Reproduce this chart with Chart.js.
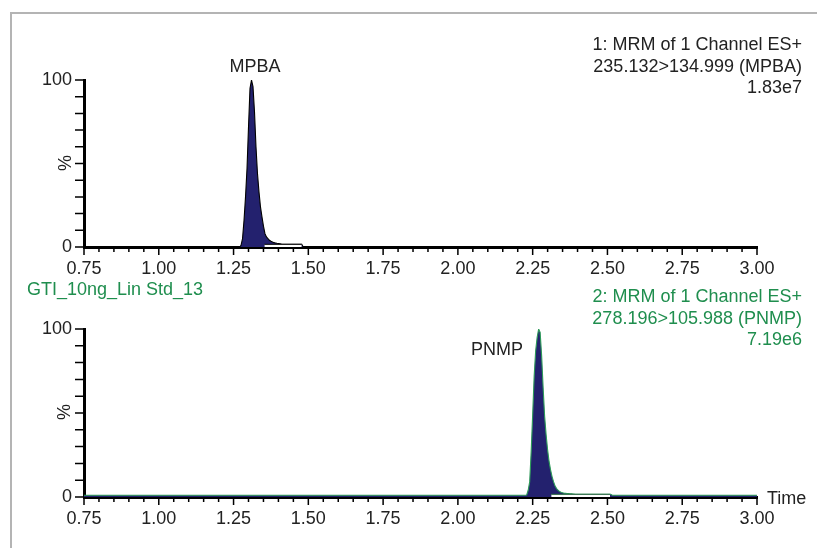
<!DOCTYPE html>
<html>
<head>
<meta charset="utf-8">
<script src="https://cdn.jsdelivr.net/npm/chart.js@4.4.1/dist/chart.umd.min.js"></script>
<style>
  html, body { margin: 0; padding: 0; background: #fff; }
  #wrap { position: relative; width: 817px; height: 548px; overflow: hidden;
          font-family: 'Liberation Sans', Arial, sans-serif; }
  canvas { position: absolute; left: 0; }
  .frame { position: absolute; left: 10px; top: 12px; width: 830px; height: 560px;
           border-top: 2px solid #b4b4b4; border-left: 2px solid #b4b4b4; }
  .t { position: absolute; font-size: 18px; line-height: 21.6px; color: #222; white-space: nowrap; }
  .c { transform: translate(-50%, -50%); }
  .green { color: #1f8e4e; }
  .right { text-align: right; }
  .pct { transform: translate(-50%, -50%) rotate(-90deg); }
</style>
</head>
<body>
<div id="wrap">
  <div class="frame"></div>
  <canvas id="top" width="817" height="290" style="top:0"></canvas>
  <canvas id="bottom" width="817" height="258" style="top:290px"></canvas>

  <div class="t right" style="right:15px; top:34px;">1: MRM of 1 Channel ES+<br>235.132&gt;134.999 (MPBA)<br>1.83e7</div>
  <div class="t right green" style="right:15px; top:286px;">2: MRM of 1 Channel ES+<br>278.196&gt;105.988 (PNMP)<br>7.19e6</div>
  <div class="t green" style="left:27px; top:279px;">GTI_10ng_Lin Std_13</div>
  <div class="t c" style="left:255px; top:67px;">MPBA</div>
  <div class="t c" style="left:497px; top:350px;">PNMP</div>
  <div class="t" style="left:767px; top:488px;">Time</div>
  <div class="t pct" style="left:66px; top:163px;">%</div>
  <div class="t pct" style="left:65px; top:412px;">%</div>
</div>
<script>
// Retention time axis (min) and tick labelling
const timeMin = 0.75;
const timeMax = 3.00;
const timeStep = 0.05;
const labelledTicks = ['0.75', '1.00', '1.25', '1.50', '1.75', '2.00', '2.25', '2.50', '2.75', '3.00'];
const pctTicks = ['0', '100'];

// Channel 1: 235.132 > 134.999 (MPBA), relative intensity %
const mpbaTimes = [0.75, 1.270, 1.275, 1.280, 1.285, 1.290, 1.295, 1.300, 1.305, 1.310, 1.315,
                   1.320, 1.325, 1.330, 1.335, 1.340, 1.345, 1.350, 1.355, 1.360, 1.365,
                   1.370, 1.375, 1.380, 1.385, 1.390, 1.395, 1.400, 1.405, 1.410,
                   1.478, 1.483, 3.00];
const mpbaIntensity = [0, 0, 1, 5, 16, 30, 47, 72, 95, 100, 96,
                       81, 60, 44, 33, 24, 18, 12.5, 8, 6, 5,
                       4, 3.4, 3, 2.6, 2.4, 2.2, 2.1, 1.9, 1.7,
                       1.6, 0, 0];
// Integration baseline segment for channel 1
const mpbaBaseTimes = [1.353, 1.478];
const mpbaBaseLevel = [1.6, 1.6];

// Channel 2: 278.196 > 105.988 (PNMP), relative intensity %
const pnmpTimes = [0.75, 2.225, 2.230, 2.235, 2.240, 2.245, 2.250, 2.255, 2.260, 2.265, 2.270,
                   2.275, 2.280, 2.285, 2.290, 2.295, 2.300, 2.305, 2.310, 2.315, 2.320,
                   2.325, 2.330, 2.335, 2.340, 2.345, 2.350, 2.355, 2.360, 2.365, 2.370,
                   2.375, 2.380, 2.385, 2.390, 2.511, 2.516, 3.00];
const pnmpIntensity = [1, 1, 1.2, 4, 9, 27, 49, 72, 87, 95, 100,
                       98, 84, 65, 48, 37, 28, 21, 16, 12, 9,
                       6.5, 5, 4, 3.2, 2.8, 2.5, 2.3, 2.2, 2.1, 2.0,
                       1.9, 1.9, 1.8, 1.7, 1.6, 1, 1];
// Integration baseline segment for channel 2
const pnmpBaseTimes = [2.312, 2.509];
const pnmpBaseLevel = [1.6, 1.6];

const FONT = "'Liberation Sans', Arial, sans-serif";
const NAVY = '#23216e';

const points = (xs, ys) => xs.map((x, i) => ({ x, y: ys[i] }));

// Tick marks: long at labelled times, short at every 0.05 min; y ticks every 10 %
const tickMarks = {
  id: 'tickMarks',
  afterDraw(chart) {
    const { ctx, chartArea, scales: { x, y } } = chart;
    ctx.save();
    ctx.strokeStyle = '#000';
    ctx.lineWidth = 1.5;
    ctx.beginPath();
    x.ticks.forEach(t => {
      const px = x.getPixelForValue(t.value);
      const major = labelledTicks.includes(t.value.toFixed(2));
      ctx.moveTo(px, chartArea.bottom);
      ctx.lineTo(px, chartArea.bottom + (major ? 8 : 5));
    });
    y.ticks.forEach(t => {
      const py = y.getPixelForValue(t.value);
      ctx.moveTo(chartArea.left - 9, py);
      ctx.lineTo(chartArea.left, py);
    });
    ctx.stroke();
    ctx.restore();
  }
};

function makeChart(id, peak, base, padTop, xHeight) {
  return new Chart(document.getElementById(id), {
    type: 'line',
    data: {
      datasets: [
        {
          data: points(base.xs, base.ys),
          borderColor: base.edge,
          borderWidth: 1,
          backgroundColor: '#ffffff',
          fill: 'origin',
          pointRadius: 0,
          order: 1
        },
        {
          data: points(peak.xs, peak.ys),
          borderColor: peak.edge,
          borderWidth: 1.1,
          backgroundColor: NAVY,
          fill: 'origin',
          tension: 0,
          pointRadius: 0,
          order: 2
        }
      ]
    },
    options: {
      responsive: false,
      animation: false,
      devicePixelRatio: 1,
      layout: { padding: { top: padTop, left: 24, right: 60, bottom: 0 } },
      plugins: { legend: { display: false }, tooltip: { enabled: false } },
      scales: {
        x: {
          type: 'linear',
          min: timeMin,
          max: timeMax,
          afterFit: s => { s.height = xHeight; },
          grid: { display: true, drawOnChartArea: false, drawTicks: true, tickLength: 7, color: 'rgba(0,0,0,0)' },
          border: { display: true, color: '#000', width: 3 },
          ticks: {
            stepSize: timeStep,
            autoSkip: false,
            maxRotation: 0,
            minRotation: 0,
            padding: 4,
            color: '#222',
            font: { size: 18, family: FONT },
            callback: v => {
              const s = Number(v).toFixed(2);
              return labelledTicks.includes(s) ? s : '';
            }
          }
        },
        y: {
          min: 0,
          max: 100,
          afterFit: s => { s.width = 60; },
          grid: { display: true, drawOnChartArea: false, drawTicks: true, tickLength: 9, color: 'rgba(0,0,0,0)' },
          border: { display: true, color: '#000', width: 3 },
          ticks: {
            stepSize: 10,
            autoSkip: false,
            padding: 3,
            color: '#222',
            font: { size: 18, family: FONT },
            callback: v => pctTicks.includes(String(v)) ? String(v) : ''
          }
        }
      }
    },
    plugins: [tickMarks]
  });
}

makeChart('top',
  { xs: mpbaTimes, ys: mpbaIntensity, edge: '#000000' },
  { xs: mpbaBaseTimes, ys: mpbaBaseLevel, edge: '#000000' },
  80, 43);

makeChart('bottom',
  { xs: pnmpTimes, ys: pnmpIntensity, edge: '#2c9a58' },
  { xs: pnmpBaseTimes, ys: pnmpBaseLevel, edge: '#1b5e35' },
  39, 51);
</script>
</body>
</html>
